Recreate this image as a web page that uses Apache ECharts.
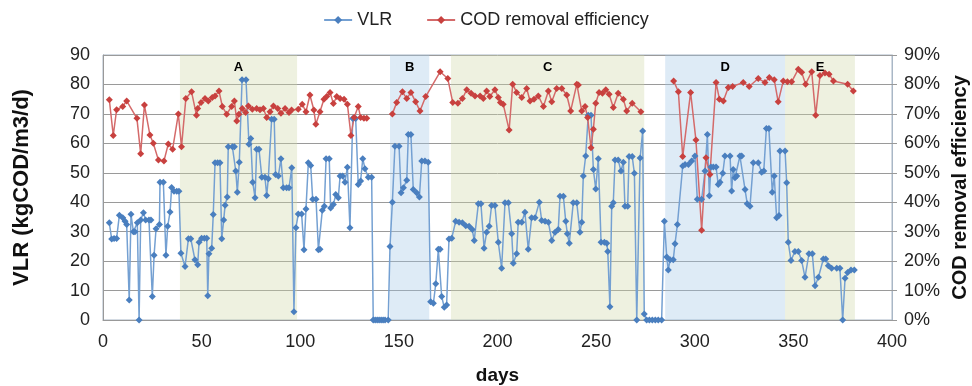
<!DOCTYPE html>
<html>
<head>
<meta charset="utf-8">
<script src="https://cdn.jsdelivr.net/npm/echarts@6/dist/echarts.min.js"></script>
<style>
  html, body { margin: 0; padding: 0; background: #fff; }
  #chart { width: 972px; height: 386px; }
</style>
</head>
<body>
<div id="chart"></div>
<script>
// VLR (kgCOD/m3/d) readings
const vlrDays = [3.2, 4.4, 5.6, 6.9, 8.3, 10, 11.2, 12, 13.3, 14.2, 15.4, 16.2, 17.4, 18.3, 19.1, 20.5, 21.6, 23.3, 24.3, 25, 25.9, 26.9, 28.6, 28.9, 30.6, 31.9, 32.8, 34, 34.8, 36, 37.4, 38.5, 39.5, 41.6, 43.3, 44.5, 46.6, 48, 48.7, 50, 51.4, 52.6, 53.1, 53.7, 55.1, 55.9, 56.8, 58.1, 59.3, 60.2, 61.2, 61.9, 63, 63.5, 65.6, 66.6, 67.3, 68.1, 69.1, 70.5, 72.5, 74, 74.9, 75.9, 77.1, 77.9, 79.1, 80.5, 82.1, 83, 83.8, 85.5, 86.8, 87.5, 88.9, 90.2, 91.4, 93.1, 94.3, 95.7, 96.8, 97.8, 99, 100.7, 101.9, 102.9, 104.1, 105.3, 106.3, 108, 109.2, 110, 111.2, 112.2, 113.1, 114.7, 115.4, 116.8, 118, 119.3, 120.2, 121.5, 122.7, 123.9, 125.2, 126.6, 128.1, 129.4, 130.6, 131.7, 132.8, 134.5, 136.2, 137, 138, 139, 140, 141, 142, 143, 144.6, 145.5, 146.7, 148, 150.1, 151.1, 152.3, 154, 154.8, 156.1, 157.3, 159, 160.4, 161.6, 163.2, 164.9, 166.1, 167.5, 168.7, 170, 170.9, 171.7, 173, 174.2, 175.4, 176.8, 178.8, 180.5, 182.2, 183.9, 185.6, 187.2, 188.2, 190.3, 191.6, 193.2, 194.5, 195.8, 197, 198.7, 200.4, 202.1, 203.8, 205.5, 207.2, 208, 209.7, 210.5, 212.3, 213.9, 215.6, 217.3, 219, 221.2, 222.4, 224.1, 225.8, 227.5, 229.2, 230.8, 231.7, 233.4, 234.6, 235.4, 236.4, 238.4, 240.2, 241.8, 242.7, 243.5, 244.7, 246, 247.4, 248.6, 249.8, 251.1, 252.5, 254.2, 255.4, 255.9, 257, 257.9, 258.7, 259.6, 261.2, 262.6, 263.8, 264.6, 266, 266.7, 268.3, 269.4, 270.6, 272.3, 273.6, 274.4, 275.6, 277, 278.5, 280, 281.5, 283.2, 284.6, 285.8, 286.6, 287.5, 289.1, 290, 291.2, 293.9, 295.1, 296.8, 298.4, 300.1, 301.3, 303.5, 305.2, 306.4, 307.4, 308.2, 309.4, 310.8, 311.9, 312.8, 314.2, 315.3, 317.9, 318.7, 319.5, 320.4, 321.3, 322.9, 323.8, 325.5, 326.6, 328, 329.7, 332.2, 333.9, 335, 336.3, 337.6, 339.3, 340.3, 341.5, 342.7, 343.2, 345.8, 346.6, 347.4, 348.8, 350.8, 352.5, 354.2, 355.9, 357.9, 359.6, 361, 362.7, 365.2, 366.4, 367.7, 369.4, 372, 373.6, 375, 376.2, 377.5, 379.2, 380.9];
const vlrValues = [33, 27.5, 27.7, 27.7, 35.6, 34.7, 33.5, 32.4, 6.8, 35.9, 30, 30, 33, 0, 34, 36.4, 34, 34, 34, 8, 22, 31, 32.4, 46.8, 46.8, 22, 31.8, 36.7, 45, 43.7, 43.7, 43.7, 22.7, 18.2, 27.6, 27.6, 20.5, 18.8, 26.4, 27.8, 27.8, 27.8, 8.2, 22.5, 24.4, 35.8, 53.4, 53.4, 53.4, 27.6, 34, 39, 41.8, 58.8, 58.8, 58.8, 50.6, 43.4, 53.6, 81.6, 81.6, 59.7, 61.6, 46.8, 41.5, 58, 58, 48.5, 48.5, 42.3, 48, 68.2, 68.2, 49.4, 48.9, 54.8, 44.9, 44.9, 44.9, 51.7, 2.8, 31.3, 36, 36, 23.9, 37.7, 53.4, 52.5, 41, 41, 23.9, 24, 37.3, 38.6, 54.8, 54.8, 38, 39.2, 42.6, 41.5, 48.9, 48.9, 46.8, 51.9, 31.3, 68.4, 68.4, 46, 47.2, 54.8, 51.4, 48.5, 48.5, 0, 0, 0, 0, 0, 0, 0, 0, 25, 40, 59, 59, 43.2, 44.9, 47.5, 63, 63, 44.3, 43.2, 41.8, 54, 54, 53.6, 6.2, 5.7, 12.3, 24, 24, 8, 4.3, 5.1, 27.5, 27.8, 33.5, 33.2, 33, 32, 31.8, 30.7, 27, 39.5, 39.5, 24.4, 29.8, 31.8, 38.9, 38.9, 26.4, 17.6, 39.8, 39.8, 29.3, 19.3, 22.5, 33.2, 33.2, 36.6, 24, 34.7, 34.7, 40, 33.8, 33.5, 33.2, 27, 29.8, 30.7, 42, 42, 33.5, 29.3, 26.1, 39.8, 39.8, 29.8, 33.2, 48.9, 55.7, 69.5, 69.5, 51.1, 44.5, 54.8, 26.4, 26.4, 26.1, 23.3, 4.5, 38.6, 39.8, 54.3, 54.3, 50.6, 53.6, 38.6, 38.6, 55.5, 55.5, 49.8, 0, 55, 64.2, 2, 0, 0, 0, 0, 0, 0, 33.5, 21.4, 17, 20.5, 20.5, 25.9, 32.4, 52.3, 52.8, 52.8, 54, 55.7, 41, 41, 50.6, 63, 42.2, 52, 52, 52, 46, 46.8, 49.8, 55.7, 55.7, 43.8, 51.1, 48.3, 48.9, 55.7, 55.7, 44.3, 39.5, 38.6, 53.4, 53.4, 50.2, 50.6, 65, 65, 43.4, 48.9, 34.7, 35.5, 57.4, 57.4, 46.6, 26.4, 20.2, 23.3, 23.3, 20.2, 14.5, 22.5, 22.5, 11.6, 14.5, 20.7, 20.7, 18.4, 17.6, 17.6, 17.6, 0, 14.2, 16.1, 17, 17];

// COD removal efficiency (%), null = no measurement (line break)
const codDays = [3.2, 5.2, 6.9, 10, 12, 17.2, 19.1, 21, 23.8, 25.5, 28.1, 30.9, 33.1, 35.3, 38.2, 39.8, 42, 44.9, 47.4, 48, 49.7, 51.7, 53.4, 55.4, 56.8, 58.8, 60.5, 62.7, 65.2, 66.6, 67.8, 68.9, 70.6, 72.3, 73.7, 75.7, 77.9, 79.6, 81.3, 83, 84.7, 86.4, 88.6, 90.2, 92.3, 94.3, 95.6, 99, 101, 102.9, 104.9, 106.9, 107.9, 110, 112, 113.4, 115.1, 116.8, 118.5, 120.2, 122.2, 123.9, 125.7, 127.3, 129.4, 130.6, 132.3, 133.7, 140, 146.7, 148.9, 151.8, 154, 156.1, 158.5, 160.7, 163.6, 170.9, 174.8, 177.3, 179.9, 182.2, 184.4, 186.6, 188.6, 191.2, 192.8, 194.5, 196.1, 198.7, 200.4, 201.5, 202.9, 205.9, 207.7, 209.7, 212.3, 214.8, 216.5, 218.5, 220.7, 223.3, 225.8, 227.5, 230, 232.6, 235.1, 237.1, 240.2, 241, 242.7, 244.4, 245.7, 247.4, 248.6, 249.8, 251.5, 253.2, 254.9, 256.6, 258.7, 261.2, 263.8, 265.5, 268.3, 272.7, 280, 289.3, 291.7, 293.9, 297.9, 300.6, 303.5, 305.7, 307.7, 310.8, 312.5, 314.5, 317, 319.2, 324.6, 327.6, 332.2, 335.6, 337.8, 340.3, 342.3, 344.9, 347, 349.1, 352.5, 354.2, 356.2, 359.3, 361.3, 363.5, 366, 368.1, 370.3, 377.5, 380.4];
const codValues = [74.8, 62.7, 71.4, 72.5, 74.4, 68.5, 56.5, 73, 62.8, 60, 54.3, 54, 59.8, 58, 70, 58.8, 75.2, 77.5, 69.5, 71.8, 73.9, 75.2, 74.4, 75.6, 76.1, 77.8, 72.5, 69.9, 72.5, 74.4, 67.6, 69.9, 71.8, 70.5, 72.7, 71.6, 71.8, 71.4, 71.8, 68.8, 70.7, 72.7, 71.8, 70.2, 71.8, 70.5, 71.3, 71.6, 73.3, 70.7, 76.4, 71.3, 66.5, 70.7, 75, 75.9, 77.3, 73.5, 75.9, 75.2, 75, 73.3, 62.7, 68.8, 72.5, 68.8, 68.5, 68.5, null, 70, 73.9, 77.5, 75.2, 77.3, 74.1, 71, 75.9, 84.3, 82, 73.9, 73.6, 75.2, 78.2, 77, 76.1, 76.1, 75.2, 77.8, 75.9, 78.2, 75.6, 73.9, 73.3, 64.5, 80.1, 77.3, 75.6, 78.6, 74.4, 75, 76.1, 72.5, 77.8, 74.1, 78.6, 78.6, 76.4, 71, 80.1, 79.8, 71, 72.5, 68.8, 58.5, 64.8, 73.6, 77.3, 77, 78.2, 76.7, 72.2, 77, 75, 71, 73.6, 70.7, null, 81.2, 77.5, 55.5, 77.3, 61.1, 30.5, 55.1, 49.4, 80.7, 75, 74.4, 79, 79.3, 80.7, 79.3, 82, 80.7, 82.4, 81.6, 74.1, 81.2, 80.9, 80.9, 85.2, 84.1, 80.1, 84.3, 69.5, 83, 83.9, 83.5, 81.2, 80.1, 77.8];

// operating phases
const phaseNames = ['A', 'B', 'C', 'D', 'E'];
const phaseStart = [39, 145.5, 176.4, 285, 345.8];
const phaseEnd = [98.4, 165.4, 274.4, 345.8, 381.2];

const yTicks = { min: 0, max: 90, step: 10 };
const xTicks = { min: 0, max: 400, step: 50 };

const font = '"Liberation Sans", Arial, sans-serif';
const greenBand = 'rgba(206,215,166,0.35)';
const blueBand = 'rgba(161,198,229,0.35)';

const vlrData = vlrDays.map((d, i) => [d, vlrValues[i]]);
const codData = codDays.map((d, i) => [d, codValues[i] === null ? '-' : codValues[i]]);

const bands = phaseNames.map((name, i) => ([
    {
        name: name,
        xAxis: phaseStart[i],
        itemStyle: { color: (name === 'B' || name === 'D') ? blueBand : greenBand }
    },
    { xAxis: phaseEnd[i] }
]));

const chart = echarts.init(document.getElementById('chart'));

chart.setOption({
    animation: false,
    textStyle: { fontFamily: font },
    legend: {
        top: 6,
        left: 'center',
        itemWidth: 28,
        itemHeight: 10,
        itemGap: 34,
        textStyle: { fontSize: 18, color: '#222', fontFamily: font },
        data: ['VLR', 'COD removal efficiency']
    },
    grid: {
        left: 103,
        right: 80,
        top: 55,
        bottom: 66,
        outerBoundsMode: 'none',
        show: true,
        borderColor: '#a9b7c6',
        borderWidth: 1
    },
    xAxis: {
        type: 'value',
        min: xTicks.min,
        max: xTicks.max,
        interval: xTicks.step,
        name: 'days',
        nameLocation: 'middle',
        nameGap: 46,
        nameTextStyle: { fontSize: 19, fontWeight: 'bold', color: '#111', fontFamily: font },
        axisLine: { lineStyle: { color: '#999' } },
        axisTick: { show: false },
        axisLabel: { fontSize: 18, color: '#222', margin: 13, fontFamily: font },
        splitLine: { show: false }
    },
    yAxis: [
        {
            type: 'value',
            min: yTicks.min,
            max: yTicks.max,
            interval: yTicks.step,
            name: 'VLR (kgCOD/m3/d)',
            nameLocation: 'middle',
            nameRotate: 90,
            nameGap: 70,
            nameTextStyle: { fontSize: 22, fontWeight: 'bold', color: '#111', fontFamily: font },
            axisLine: { show: true, lineStyle: { color: '#999' } },
            axisTick: { show: false },
            axisLabel: { fontSize: 18, color: '#222', margin: 13, fontFamily: font },
            splitLine: { lineStyle: { color: '#9a9a9a', width: 1 } }
        },
        {
            type: 'value',
            min: yTicks.min,
            max: yTicks.max,
            interval: yTicks.step,
            name: 'COD removal efficiency',
            nameLocation: 'middle',
            nameRotate: 90,
            nameGap: 58,
            nameTextStyle: { fontSize: 20, fontWeight: 'bold', color: '#111', fontFamily: font },
            axisLine: { show: true, lineStyle: { color: '#a9b7c6' } },
            axisTick: { show: true, inside: false, length: 5, lineStyle: { color: '#999' } },
            axisLabel: { fontSize: 18, color: '#222', margin: 12, formatter: '{value}%', fontFamily: font },
            splitLine: { show: false }
        }
    ],
    series: [
        {
            name: 'VLR',
            type: 'line',
            yAxisIndex: 0,
            data: vlrData,
            symbol: 'diamond',
            symbolSize: 7,
            showAllSymbol: true,
            lineStyle: { color: '#74a0d2', width: 1.5 },
            itemStyle: { color: '#4a7fbf' },
            markArea: {
                silent: true,
                label: {
                    show: true,
                    position: 'insideTop',
                    distance: 6,
                    fontSize: 13,
                    fontWeight: 'bold',
                    color: '#000',
                    fontFamily: font
                },
                data: bands
            }
        },
        {
            name: 'COD removal efficiency',
            type: 'line',
            yAxisIndex: 1,
            data: codData,
            symbol: 'diamond',
            symbolSize: 7,
            showAllSymbol: true,
            connectNulls: false,
            lineStyle: { color: '#d46a6a', width: 1.5 },
            itemStyle: { color: '#c8413f' }
        }
    ]
});
</script>
</body>
</html>
